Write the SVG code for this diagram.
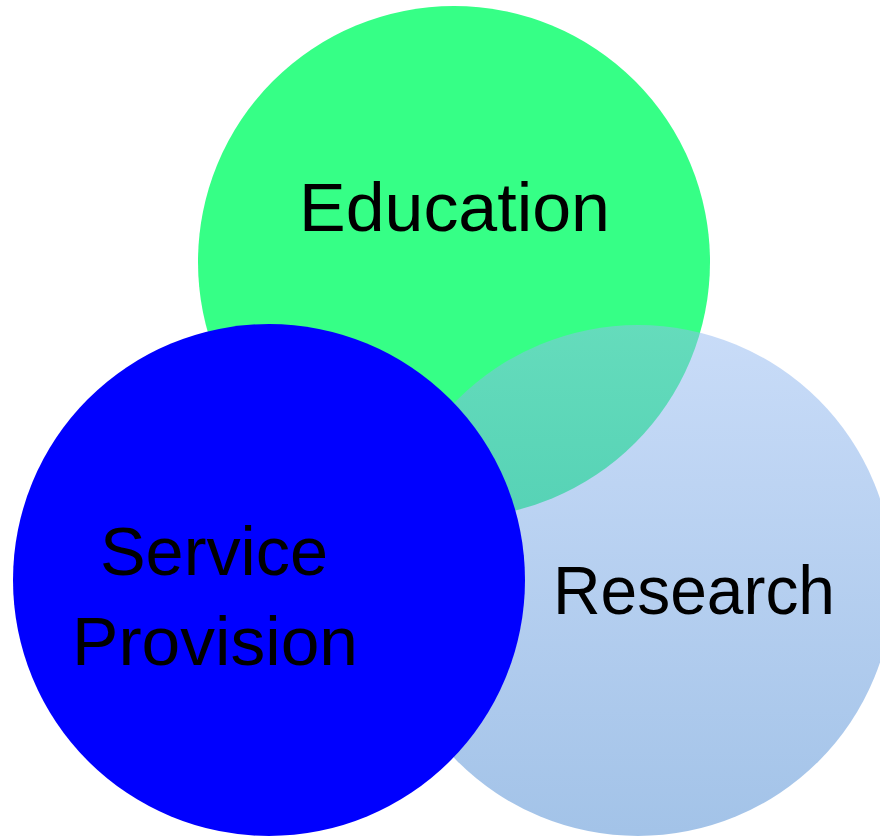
<svg xmlns="http://www.w3.org/2000/svg" width="880" height="837" viewBox="0 0 880 837">
  <defs>
    <linearGradient id="gResearch" x1="0" y1="0" x2="0" y2="1">
      <stop offset="0" stop-color="#93b9f1"/>
      <stop offset="1" stop-color="#4787d1"/>
    </linearGradient>
    <style>
      .lbl { font-family: "Liberation Sans", Arial, sans-serif; font-size: 68px; fill: #000000; text-anchor: middle; }
    </style>
  </defs>
  <rect width="880" height="837" fill="#ffffff"/>
  <g id="education">
    <circle cx="454" cy="262" r="256" fill="#36ff86"/>
  </g>
  <g id="research">
    <circle cx="638" cy="580.5" r="255.5" fill="url(#gResearch)" fill-opacity="0.5"/>
  </g>
  <g id="service-provision">
    <circle cx="269" cy="580" r="256" fill="#0000ff"/>
  </g>
  <g id="connectors"/>
  <g id="labels">
    <text class="lbl" x="454.5" y="231" textLength="311" lengthAdjust="spacingAndGlyphs">Education</text>
    <text class="lbl" x="694" y="614" textLength="282" lengthAdjust="spacingAndGlyphs">Research</text>
    <text class="lbl" x="214" y="575" textLength="228" lengthAdjust="spacingAndGlyphs">Service</text>
    <text class="lbl" x="215" y="665" textLength="286" lengthAdjust="spacingAndGlyphs">Provision</text>
  </g>
</svg>
